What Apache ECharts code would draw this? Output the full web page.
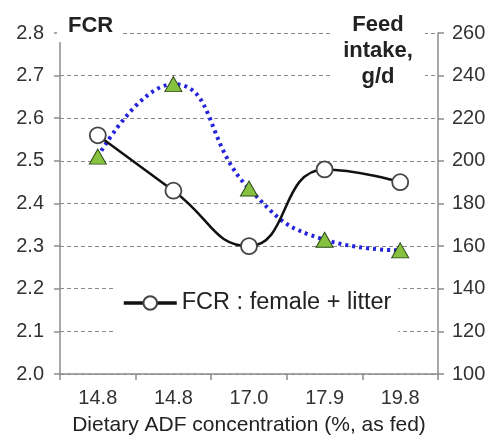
<!DOCTYPE html>
<html>
<head>
<meta charset="utf-8">
<script src="https://cdn.jsdelivr.net/npm/echarts@6/dist/echarts.min.js"></script>
<style>
html,body{margin:0;padding:0;background:#fff;}
#chart{width:496px;height:441px;}
</style>
</head>
<body>
<div id="chart"></div>
<script>
var categories = ['14.8', '14.8', '17.0', '17.9', '19.8'];
var fcr = [2.56, 2.43, 2.30, 2.48, 2.45];
var feedIntake = [202, 236, 187, 163, 158];
var fcrName = 'FCR : female + litter';
var feedName = 'Feed intake';
var xAxisName = 'Dietary ADF concentration (%, as fed)';
var leftTitle = 'FCR';
var rightTitle = 'Feed\nintake,\ng/d';

var FONT = '"Liberation Sans", Arial, sans-serif';
var chart = echarts.init(document.getElementById('chart'), null, {renderer: 'canvas'});
chart.setOption({
  animation: false,
  backgroundColor: '#fff',
  grid: {left: 60, right: 58, top: 33, bottom: 61},
  legend: {
    data: [fcrName],
    left: 115,
    top: 262,
    padding: [29, 7, 34, 7],
    backgroundColor: '#fff',
    itemWidth: 53,
    itemHeight: 17,
    textStyle: {fontFamily: FONT, fontSize: 23.5, color: '#222'},
    lineStyle: {width: 3.5}
  },
  xAxis: {
    type: 'category',
    data: categories,
    boundaryGap: true,
    name: xAxisName,
    nameLocation: 'middle',
    nameGap: 41,
    nameTextStyle: {fontFamily: FONT, fontSize: 21, color: '#222'},
    axisLine: {lineStyle: {color: '#8c8c8c', width: 1.5}},
    axisTick: {show: true, length: 6, lineStyle: {color: '#8c8c8c', width: 1.5}},
    axisLabel: {fontFamily: FONT, fontSize: 20, color: '#333', margin: 14}
  },
  yAxis: [
    {
      type: 'value', min: 2.0, max: 2.8, interval: 0.1,
      axisLine: {show: true, lineStyle: {color: '#8c8c8c', width: 1.5}},
      axisTick: {show: true, length: 6, lineStyle: {color: '#8c8c8c', width: 1.5}},
      axisLabel: {fontFamily: FONT, fontSize: 20, color: '#333', margin: 16,
        formatter: function (v) { return v.toFixed(1); }},
      splitLine: {show: true, lineStyle: {color: '#8a8a8a', width: 1, type: [4, 3]}}
    },
    {
      type: 'value', min: 100, max: 260, interval: 20, position: 'right',
      axisLine: {show: true, lineStyle: {color: '#8c8c8c', width: 1.5}},
      axisTick: {show: true, length: 6, lineStyle: {color: '#8c8c8c', width: 1.5}},
      axisLabel: {fontFamily: FONT, fontSize: 20, color: '#333', margin: 14},
      splitLine: {show: false}
    }
  ],
  graphic: [
    {type: 'rect', z: 100, shape: {x: 57, y: 8, width: 66, height: 34}, style: {fill: '#fff'}},
    {type: 'text', z: 101, x: 68, y: 26, style: {text: leftTitle, font: 'bold 22px ' + FONT, fill: '#222', textVerticalAlign: 'middle', verticalAlign: 'middle'}},
    {type: 'rect', z: 100, shape: {x: 331, y: 0, width: 94, height: 94}, style: {fill: '#fff'}},
    {type: 'text', z: 101, x: 378, y: 51, style: {text: rightTitle, font: 'bold 22px ' + FONT, fill: '#222', align: 'center', verticalAlign: 'middle', textAlign: 'center', textVerticalAlign: 'middle', lineHeight: 26}}
  ],
  series: [
    {
      name: feedName,
      type: 'line',
      yAxisIndex: 1,
      data: feedIntake,
      smooth: 0.5,
      symbol: 'triangle',
      symbolSize: [17, 15],
      lineStyle: {color: '#2323dc', width: 4, type: [3, 4]},
      itemStyle: {color: '#86c140', borderColor: '#2d4a1a', borderWidth: 1},
      z: 3
    },
    {
      name: fcrName,
      type: 'line',
      yAxisIndex: 0,
      data: fcr,
      smooth: 0.5,
      symbol: 'circle',
      symbolSize: 16,
      lineStyle: {color: '#111', width: 2.5},
      itemStyle: {color: '#fff', borderColor: '#444', borderWidth: 1.8},
      z: 4
    }
  ]
});
</script>
</body>
</html>
